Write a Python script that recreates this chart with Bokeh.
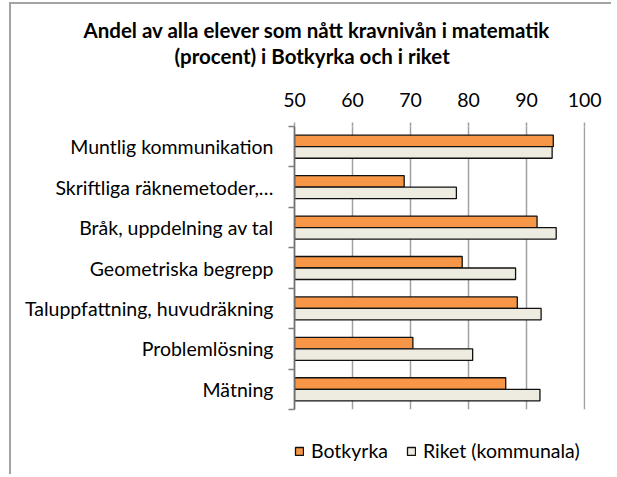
from bokeh.plotting import figure
from bokeh.layouts import column
from bokeh.models import ColumnDataSource, FixedTicker, Legend, LegendItem, Title
from bokeh.transform import dodge
from bokeh.embed import file_html
from bokeh.resources import INLINE

categories = ["Muntlig kommunikation", "Skriftliga räknemetoder,…", "Bråk, uppdelning av tal",
              "Geometriska begrepp", "Taluppfattning, huvudräkning", "Problemlösning", "Mätning"]
botkyrka = [94.6, 68.9, 91.8, 78.9, 88.4, 70.4, 86.4]
riket = [94.4, 77.9, 95.1, 88.1, 92.5, 80.7, 92.3]
x_ticks = [50, 60, 70, 80, 90, 100]
title_lines = ["Andel av alla elever som nått kravnivån i matematik",
               "(procent) i Botkyrka och i riket"]
series_names = ["Botkyrka", "Riket (kommunala)"]

FONT = "Lato"
FS = "19.5px"
ORANGE = "#F79646"
CREAM = "#EEECE1"
EDGE = "#111111"
BORDER = "2px solid #a3a3a3"

n = len(categories)
ypos = [n - 1 - i + 0.5 for i in range(n)]
src = ColumnDataSource(dict(y=ypos, cat=categories, b=botkyrka, r=riket))

W, H = 600, 412
p = figure(width=W, height=H, x_range=(50, 100.15), y_range=(0, n),
           x_axis_location="above", output_backend="svg", toolbar_location=None,
           min_border_left=283, min_border_right=28, min_border_top=122, min_border_bottom=9,
           styles={"margin-left": "9px", "margin-top": "2px", "box-sizing": "content-box",
                   "border-left": BORDER, "border-top": BORDER})
p.outline_line_color = None
p.background_fill_color = "white"
p.border_fill_color = "white"

p.hbar(y=dodge("y", 0.1425), left=50, right="b", height=0.285, source=src,
       fill_color=ORANGE, line_color=EDGE, line_width=1.3)
p.hbar(y=dodge("y", -0.1425), left=50, right="r", height=0.285, source=src,
       fill_color=CREAM, line_color=EDGE, line_width=1.3)

# x axis (top); a tiny blank axis label reserves the gap under the title
xa = p.xaxis[0]
xa.ticker = FixedTicker(ticks=x_ticks)
xa.axis_line_color = None
xa.major_tick_out = 4
xa.major_tick_in = 0
xa.minor_tick_line_color = None
xa.major_tick_line_color = "#a0a0a0"
xa.major_tick_line_width = 1.5
xa.major_label_text_font = FONT
xa.major_label_text_font_size = FS
xa.major_label_text_color = "black"
xa.major_label_standoff = 16
xa.axis_label = " "
xa.axis_label_text_font_size = "1px"
xa.axis_label_standoff = 18

p.xgrid.ticker = FixedTicker(ticks=x_ticks[1:])
p.xgrid.grid_line_color = "#a0a0a0"
p.xgrid.grid_line_width = 1.5
p.ygrid.grid_line_color = None

# y axis (left)
ya = p.yaxis[0]
ya.ticker = FixedTicker(ticks=ypos, minor_ticks=list(range(n + 1)))
ya.major_label_overrides = {y: c for y, c in zip(ypos, categories)}
ya.major_tick_out = 0
ya.major_tick_in = 0
ya.minor_tick_out = 6
ya.minor_tick_in = 0
ya.minor_tick_line_color = "#808080"
ya.minor_tick_line_width = 1.5
ya.axis_line_color = "#707070"
ya.axis_line_width = 1.8
ya.major_label_text_font = FONT
ya.major_label_text_font_size = FS
ya.major_label_text_color = "black"
ya.major_label_standoff = 15

# titles: added closest-first
p.add_layout(Title(text=title_lines[1], align="left", offset=-120, standoff=0,
                   text_font=FONT, text_font_size="20.5px", text_font_style="bold",
                   text_color="black"), "above")
p.add_layout(Title(text=title_lines[0], align="left", offset=-211, standoff=0,
                   text_font=FONT, text_font_size="20.5px", text_font_style="bold",
                   text_color="black"), "above")

# legend strip below the chart
lf = figure(width=W, height=58, x_range=(0, 1), y_range=(0, 1), x_axis_type=None,
            y_axis_type=None, output_backend="svg", toolbar_location=None,
            min_border_left=0, min_border_right=0, min_border_top=0, min_border_bottom=0,
            styles={"margin-left": "9px", "box-sizing": "content-box", "border-left": BORDER})
lf.outline_line_color = None
lf.grid.visible = False
proxy = ColumnDataSource(dict(y=[float("nan")], r=[float("nan")]))
l1 = lf.hbar(y="y", left=0, right="r", height=1, source=proxy,
             fill_color=ORANGE, line_color=EDGE, line_width=1.3)
l2 = lf.hbar(y="y", left=0, right="r", height=1, source=proxy,
             fill_color=CREAM, line_color=EDGE, line_width=1.3)
legend = Legend(items=[LegendItem(label=series_names[0], renderers=[l1]),
                       LegendItem(label=series_names[1], renderers=[l2])],
                location=(0, 12), orientation="horizontal",
                glyph_width=10, glyph_height=10, label_standoff=7, spacing=18,
                padding=0, margin=0, border_line_color=None, background_fill_alpha=0,
                label_text_font=FONT, label_text_font_size=FS, label_text_color="black",
                label_height=22)
lf.add_layout(legend, "center")

layout = column(p, lf, spacing=0)
open("out.html", "w").write(file_html(layout, INLINE))
